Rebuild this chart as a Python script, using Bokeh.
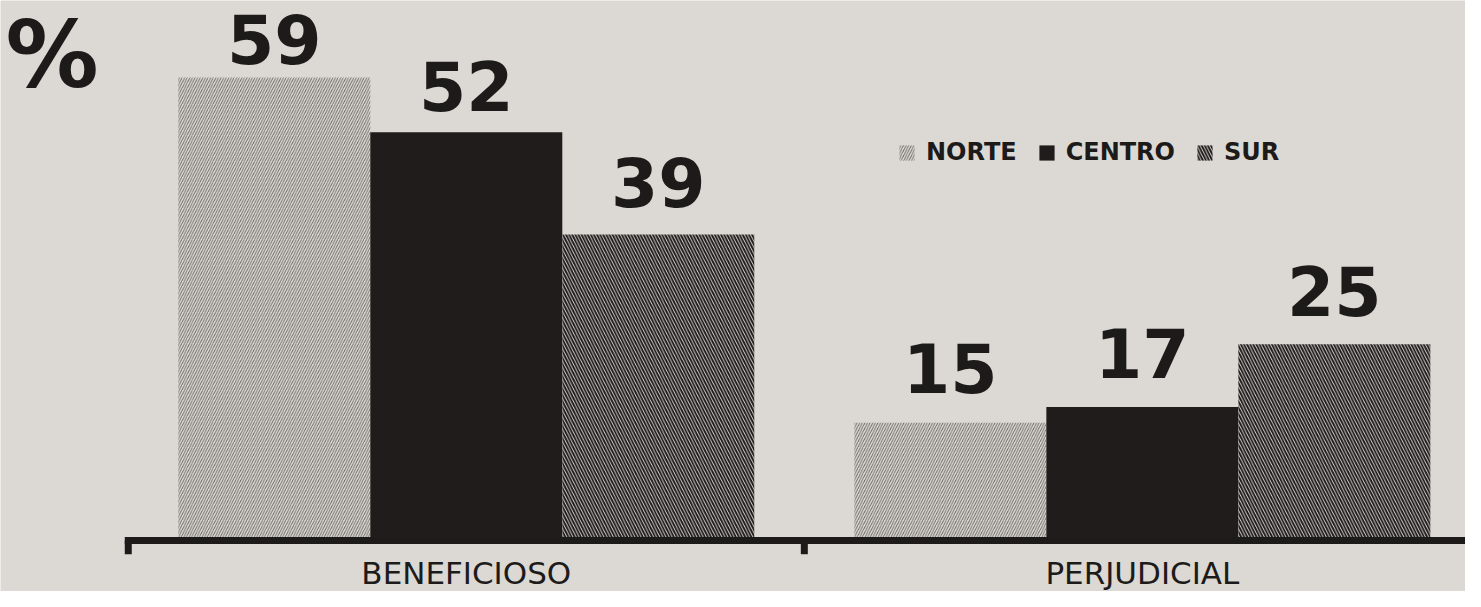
from bokeh.plotting import figure
from bokeh.models import Range1d, Legend, LegendItem, Label
from bokeh.core.properties import value
from bokeh.embed import file_html
from bokeh.resources import INLINE

# ---- data ----
categories = ["BENEFICIOSO", "PERJUDICIAL"]
regions = ["NORTE", "CENTRO", "SUR"]
norte = [59, 15]
centro = [52, 17]
sur = [39, 25]
unit_label = "%"

# ---- style ----
BG = "#dcd9d4"
INK = "#1d1b1a"
FONT = value("DejaVu Sans")
W, H = 1465, 591
BAR_W = 0.284
VALUE_PX = 68
# gap (px) between each bar top and its value label, per region series
label_gap = {"NORTE": [14, 30], "CENTRO": [22, 30], "SUR": [28, 29]}

groups = list(range(len(categories)))
p = figure(width=W, height=H,
           x_range=Range1d(-0.689, 1.478), y_range=Range1d(-6.5, 68.8),
           output_backend="svg", toolbar_location=None,
           x_axis_location=None, y_axis_location=None,
           min_border=0, background_fill_color=BG, border_fill_color=BG,
           outline_line_color=None)
p.grid.visible = False

series = [norte, centro, sur]
styles = [
    dict(fill_color=BG, hatch_pattern="/", hatch_color="#4d4a47", hatch_weight=0.8, hatch_scale=5.2),
    dict(fill_color="#1f1c1b"),
    dict(fill_color=BG, hatch_pattern="\\", hatch_color=INK, hatch_weight=1.9, hatch_scale=6.2),
]
renderers = []
lx, ly, lt, loff = [], [], [], []
shift = 0.36 * VALUE_PX  # alphabetic baseline correction
for i, (name, vals, st) in enumerate(zip(regions, series, styles)):
    xs = [g + (i - 1) * BAR_W for g in groups]
    r = p.vbar(x=xs, top=vals, bottom=0, width=BAR_W, line_color=None, **st)
    renderers.append(r)
    lx += xs
    ly += vals
    lt += [str(v) for v in vals]
    loff += [-(gp + shift) for gp in label_gap[name]]

# value labels
p.text(x=lx, y=ly, text=lt, y_offset=loff, text_align="center", text_baseline="alphabetic",
       text_font=FONT, text_font_style="bold",
       text_font_size=f"{VALUE_PX}px", text_color=INK)

# baseline axis with ticks at group boundaries
x_end = p.x_range.end + 0.1
left_edge = groups[0] - 0.5
p.segment(x0=[left_edge - 3.5 / 676], y0=[0], x1=[x_end], y1=[0],
          line_color=INK, line_width=7)
bounds = [g - 0.5 for g in groups]
p.segment(x0=bounds, y0=[0] * len(bounds), x1=bounds, y1=[-1.75] * len(bounds),
          line_color=INK, line_width=7)

# category labels
p.text(x=groups, y=[p.y_range.start] * len(groups), text=categories,
       y_offset=-19, text_align="center", text_baseline="alphabetic",
       text_font=FONT, text_font_size="31px", text_color=INK)

# unit label
p.add_layout(Label(x=5, y=H - 54, x_units="screen", y_units="screen", text=unit_label,
                   text_font="DejaVu Sans", text_font_style="bold", text_font_size="93px",
                   text_color=INK, text_baseline="alphabetic"))

legend = Legend(items=[LegendItem(label=n, renderers=[r]) for n, r in zip(regions, renderers)],
                orientation="horizontal", location=(897, 425),
                glyph_width=19, glyph_height=19, label_standoff=10, spacing=20,
                padding=0, margin=0, background_fill_alpha=0, border_line_color=None,
                label_text_font="DejaVu Sans", label_text_font_style="bold",
                label_text_font_size="24px", label_text_color=INK)
p.add_layout(legend)

open("out.html", "w").write(file_html(p, INLINE))
